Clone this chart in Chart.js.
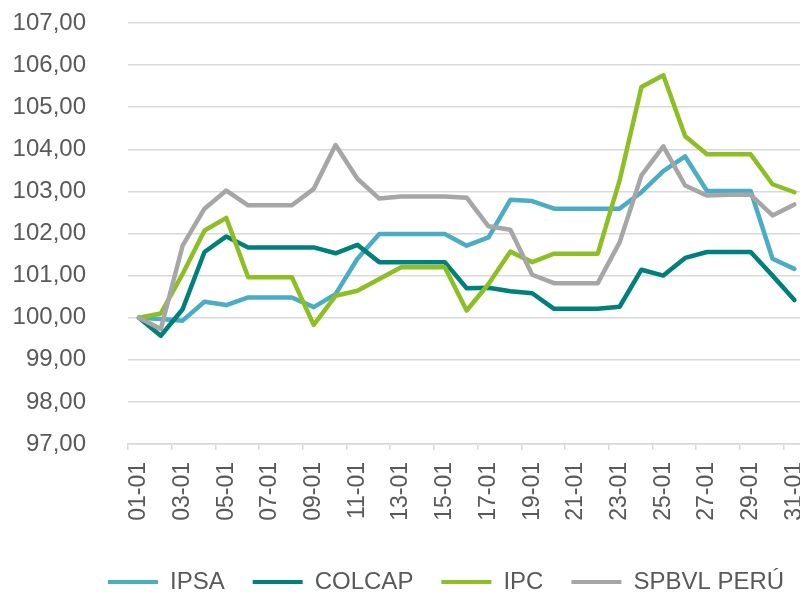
<!DOCTYPE html>
<html>
<head>
<meta charset="utf-8">
<script src="https://cdn.jsdelivr.net/npm/chart.js@4/dist/chart.umd.min.js"></script>
<style>
html,body{margin:0;padding:0;background:#fff;}
#wrap{width:800px;height:592px;overflow:hidden;position:relative;background:#fff;}
#c{position:absolute;left:0;top:0;}
</style>
</head>
<body>
<div id="wrap"><canvas id="c" width="834" height="604"></canvas></div>
<script>
const categories = ['01-01','02-01','03-01','04-01','05-01','06-01','07-01','08-01','09-01','10-01',
  '11-01','12-01','13-01','14-01','15-01','16-01','17-01','18-01','19-01','20-01',
  '21-01','22-01','23-01','24-01','25-01','26-01','27-01','28-01','29-01','30-01','31-01'];

const ipsa = [100.00, 99.97, 99.93, 100.38, 100.30, 100.48, 100.48, 100.48, 100.25, 100.56,
  101.40, 101.99, 101.99, 101.99, 101.99, 101.71, 101.91, 102.80, 102.77, 102.59,
  102.59, 102.59, 102.59, 102.98, 103.48, 103.83, 103.01, 103.01, 103.01, 101.40, 101.16];

const colcap = [100.00, 99.57, 100.20, 101.56, 101.93, 101.67, 101.67, 101.67, 101.67, 101.53,
  101.73, 101.32, 101.32, 101.32, 101.32, 100.70, 100.71, 100.63, 100.58, 100.21,
  100.21, 100.21, 100.26, 101.14, 101.00, 101.42, 101.56, 101.56, 101.56, 101.00, 100.42];

const ipc = [100.00, 100.10, 101.04, 102.07, 102.37, 100.96, 100.96, 100.96, 99.83, 100.52,
  100.64, 100.92, 101.20, 101.20, 101.20, 100.17, 100.80, 101.57, 101.32, 101.52,
  101.52, 101.52, 103.26, 105.48, 105.76, 104.31, 103.88, 103.88, 103.88, 103.17, 102.98];

const spbvl = [100.00, 99.73, 101.71, 102.59, 103.02, 102.67, 102.67, 102.67, 103.06, 104.10,
  103.30, 102.83, 102.88, 102.88, 102.88, 102.85, 102.17, 102.09, 101.02, 100.82,
  100.82, 100.82, 101.79, 103.38, 104.07, 103.14, 102.90, 102.92, 102.92, 102.43, 102.69];

const seriesNames = ['IPSA', 'COLCAP', 'IPC', 'SPBVL PERÚ'];
const seriesColors = ['#4BACC6', '#00807A', '#8DBE23', '#A6A6A6'];
const yMin = 97, yMax = 107, yStep = 1;

const FONT = '"Liberation Sans", Arial, sans-serif';
const TEXT = '#595959';
const GRID = '#d9d9d9';
const LEGEND_X = 108;

const legendShift = {
  id: 'legendShift',
  afterLayout(chart) {
    const lg = chart.legend;
    if (!lg) return;
    const p = lg.options.labels.padding;
    const w = lg.right - lg.left;
    lg.left = LEGEND_X - p;
    lg.right = lg.left + w;
  }
};

const seriesData = [ipsa, colcap, ipc, spbvl];
const datasets = seriesNames.map((name, i) => ({
  label: name,
  data: seriesData[i],
  borderColor: seriesColors[i],
  backgroundColor: seriesColors[i],
  borderWidth: 4.5,
  pointRadius: 0,
  pointHoverRadius: 0,
  tension: 0,
  fill: false,
  borderJoinStyle: 'round',
  borderCapStyle: 'round',
  order: seriesNames.length - i
}));

new Chart(document.getElementById('c'), {
  type: 'line',
  data: { labels: categories, datasets },
  options: {
    responsive: false,
    animation: false,
    devicePixelRatio: 1,
    layout: { padding: { top: 23, left: 0, right: 0, bottom: 0 } },
    plugins: {
      tooltip: { enabled: false },
      legend: {
        position: 'bottom',
        align: 'start',
        labels: {
          boxWidth: 50,
          boxHeight: 4,
          padding: 28,
          color: TEXT,
          font: { family: FONT, size: 24 },
          sort: (a, b) => a.datasetIndex - b.datasetIndex,
          generateLabels: (chart) => Chart.defaults.plugins.legend.labels.generateLabels(chart)
            .map(l => Object.assign(l, { lineWidth: 0, fillStyle: l.strokeStyle }))
        }
      }
    },
    scales: {
      x: {
        offset: true,
        grid: {
          display: true,
          drawOnChartArea: false,
          drawTicks: true,
          tickLength: 6,
          offset: true,
          lineWidth: 1.5,
          tickColor: (ctx) => (ctx.index % 2 === 0 ? GRID : 'rgba(0,0,0,0)')
        },
        border: { display: true, color: GRID, width: 1.5 },
        ticks: {
          autoSkip: false,
          maxRotation: 90,
          minRotation: 90,
          padding: 12,
          color: TEXT,
          font: { family: FONT, size: 23 },
          callback: (v, i) => (i % 2 === 0 ? categories[i] : '')
        },
        afterFit: (s) => { s.height = 98; }
      },
      y: {
        min: yMin,
        max: yMax,
        grid: { color: GRID, lineWidth: 1.5, drawTicks: true, tickLength: 42, tickColor: 'rgba(0,0,0,0)' },
        border: { display: false },
        ticks: {
          stepSize: yStep,
          padding: 0,
          color: TEXT,
          font: { family: FONT, size: 24 },
          callback: (v) => Number(v).toFixed(2).replace('.', ',')
        },
        afterFit: (s) => { s.width = 128; }
      }
    }
  },
  plugins: [legendShift]
});
</script>
</body>
</html>
